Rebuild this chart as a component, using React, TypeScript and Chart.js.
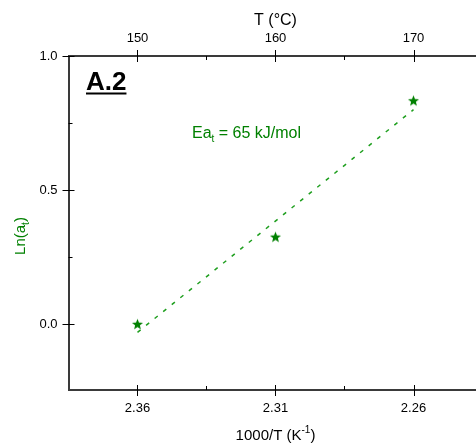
import React, { useEffect, useRef } from 'react';
import { Chart, registerables } from 'chart.js';

Chart.register(...registerables);

// ---- data ----
const invT = [2.36, 2.31, 2.26];
const lnAt = [0.0, 0.325, 0.833];
const fitX = [2.36, 2.26];
const fitY = [-0.03, 0.8];
const xTicks = [2.36, 2.31, 2.26];
const xTickLabels = ['2.36', '2.31', '2.26'];
const xMinorTicks = [2.335, 2.285, 2.235];
const topTickLabels = ['150', '160', '170'];
const yTicks = [0.0, 0.5, 1.0];
const yTickLabels = ['0.0', '0.5', '1.0'];
const yMinorTicks = [-0.25, 0.25, 0.75];
const X_MIN = 2.235;
const X_MAX = 2.385;
const Y_MIN = -0.245;
const Y_MAX = 1.0;

const FONT = '"Liberation Sans", Arial, sans-serif';
const STAR_GREEN = '#008000';
const LINE_GREEN = '#1f9f1f';

function makeStar(): HTMLCanvasElement {
  const c = document.createElement('canvas');
  c.width = 13;
  c.height = 13;
  const g = c.getContext('2d')!;
  const cx = 6.5, cy = 6.8, ro = 5.8, ri = 2.5;
  g.beginPath();
  for (let i = 0; i < 10; i++) {
    const r = i % 2 === 0 ? ro : ri;
    const a = -Math.PI / 2 + (i * Math.PI) / 5;
    const px = cx + r * Math.cos(a);
    const py = cy + r * Math.sin(a);
    if (i === 0) g.moveTo(px, py);
    else g.lineTo(px, py);
  }
  g.closePath();
  g.fillStyle = STAR_GREEN;
  g.fill();
  return c;
}

const tickPlugin = {
  id: 'axisTicks',
  afterDraw(chart: any) {
    const { ctx } = chart;
    const { left, right, top, bottom } = chart.chartArea;
    const xs = chart.scales.x;
    const ys = chart.scales.y;
    ctx.save();
    ctx.strokeStyle = '#000';
    ctx.lineWidth = 1;
    const seg = (x1: number, y1: number, x2: number, y2: number) => {
      ctx.beginPath();
      ctx.moveTo(x1, y1);
      ctx.lineTo(x2, y2);
      ctx.stroke();
    };
    xTicks.forEach((v) => {
      const p = Math.round(xs.getPixelForValue(v)) + 0.5;
      seg(p, bottom - 5, p, bottom + 6);
      seg(p, top - 6, p, top + 6);
    });
    xMinorTicks.forEach((v) => {
      const p = Math.round(xs.getPixelForValue(v)) + 0.5;
      seg(p, bottom - 4, p, bottom);
      seg(p, top, p, top + 4);
    });
    yTicks.forEach((v) => {
      const p = Math.round(ys.getPixelForValue(v)) + 0.5;
      seg(left - 6, p, left + 6, p);
      seg(right - 6, p, right + 6, p);
    });
    yMinorTicks.forEach((v) => {
      if (v < Y_MIN) return;
      const p = Math.round(ys.getPixelForValue(v)) + 0.5;
      seg(left, p, left + 4, p);
      seg(right - 4, p, right, p);
    });
    ctx.restore();
  },
};

const textPlugin = {
  id: 'texts',
  afterDraw(chart: any) {
    const { ctx } = chart;
    const { left, right } = chart.chartArea;
    const cx = (left + right) / 2;
    ctx.save();
    ctx.textBaseline = 'alphabetic';

    // top title
    ctx.fillStyle = '#000';
    ctx.font = `16px ${FONT}`;
    ctx.textAlign = 'center';
    ctx.fillText('T (°C)', cx, 25);

    // bottom title with superscript
    const main1 = '1000/T (K';
    const sup = '-1';
    const end = ')';
    ctx.textAlign = 'left';
    ctx.font = `15px ${FONT}`;
    const w1 = ctx.measureText(main1).width;
    const w3 = ctx.measureText(end).width;
    ctx.font = `10px ${FONT}`;
    const w2 = ctx.measureText(sup).width;
    const total = w1 + w2 + w3;
    let x = cx - total / 2;
    const by = 440;
    ctx.font = `15px ${FONT}`;
    ctx.fillText(main1, x, by);
    x += w1;
    ctx.font = `10px ${FONT}`;
    ctx.fillText(sup, x, by - 7);
    x += w2;
    ctx.font = `15px ${FONT}`;
    ctx.fillText(end, x, by);

    // left title rotated, green with subscript
    ctx.save();
    ctx.translate(25, 236);
    ctx.rotate(-Math.PI / 2);
    ctx.fillStyle = STAR_GREEN;
    ctx.font = `15px ${FONT}`;
    const a1 = 'Ln(a';
    const a2 = 't';
    const a3 = ')';
    const l1 = ctx.measureText(a1).width;
    const l3 = ctx.measureText(a3).width;
    ctx.font = `10px ${FONT}`;
    const l2 = ctx.measureText(a2).width;
    const lt = l1 + l2 + l3;
    let lx = -lt / 2;
    ctx.font = `15px ${FONT}`;
    ctx.fillText(a1, lx, 0);
    lx += l1;
    ctx.font = `10px ${FONT}`;
    ctx.fillText(a2, lx, 4);
    lx += l2;
    ctx.font = `15px ${FONT}`;
    ctx.fillText(a3, lx, 0);
    ctx.restore();

    // panel label
    ctx.fillStyle = '#000';
    ctx.font = `bold 26px ${FONT}`;
    const pl = 'A.2';
    const pw = ctx.measureText(pl).width;
    ctx.fillText(pl, 86, 90);
    ctx.fillRect(86, 92.5, pw, 2);

    // activation energy annotation
    ctx.fillStyle = STAR_GREEN;
    const e1 = 'Ea';
    const e2 = 't';
    const e3 = ' = 65 kJ/mol';
    let ex = 192;
    const ey = 138;
    ctx.font = `16px ${FONT}`;
    ctx.fillText(e1, ex, ey);
    ex += ctx.measureText(e1).width;
    ctx.font = `10px ${FONT}`;
    ctx.fillText(e2, ex, ey + 4);
    ex += ctx.measureText(e2).width;
    ctx.font = `16px ${FONT}`;
    ctx.fillText(e3, ex, ey);

    ctx.restore();
  },
};

export default function App() {
  const ref = useRef<HTMLCanvasElement | null>(null);

  useEffect(() => {
    if (!ref.current) return;
    const star = makeStar();
    const AXIS = '#3a3a3a';
    const chart = new Chart(ref.current, {
      type: 'scatter',
      data: {
        datasets: [
          {
            type: 'line',
            label: 'fit',
            data: fitX.map((x, i) => ({ x, y: fitY[i] })),
            borderColor: LINE_GREEN,
            borderWidth: 1.5,
            borderDash: [4, 7],
            pointRadius: 0,
            showLine: true,
            fill: false,
            xAxisID: 'x',
            yAxisID: 'y',
          } as any,
          {
            type: 'scatter',
            label: 'data',
            data: invT.map((x, i) => ({ x, y: lnAt[i] })),
            pointStyle: star as any,
            pointRadius: 6,
            backgroundColor: STAR_GREEN,
            borderColor: STAR_GREEN,
            xAxisID: 'x',
            yAxisID: 'y',
          },
        ],
      },
      options: {
        animation: false,
        responsive: false,
        maintainAspectRatio: false,
        devicePixelRatio: 1,
        layout: { padding: { left: 0, right: 17.5, top: 0, bottom: 0 } },
        plugins: {
          legend: { display: false },
          tooltip: { enabled: false },
          title: { display: false },
        },
        scales: {
          x: {
            type: 'linear',
            position: 'bottom',
            min: X_MIN,
            max: X_MAX,
            reverse: true,
            grid: { display: false, drawTicks: false },
            border: { display: true, color: AXIS, width: 2 },
            afterBuildTicks: (s: any) => {
              s.ticks = xTicks.map((v) => ({ value: v }));
            },
            afterFit: (s: any) => {
              s.height = 53;
            },
            ticks: {
              padding: 11,
              color: '#000',
              font: { family: FONT, size: 13 },
              maxRotation: 0,
              autoSkip: false,
              callback: (v: any) => xTickLabels[xTicks.indexOf(Number(v))] ?? '',
            },
          },
          x2: {
            type: 'linear',
            position: 'top',
            min: X_MIN,
            max: X_MAX,
            reverse: true,
            grid: { display: false, drawTicks: false },
            border: { display: true, color: AXIS, width: 2 },
            afterBuildTicks: (s: any) => {
              s.ticks = xTicks.map((v) => ({ value: v }));
            },
            afterFit: (s: any) => {
              s.height = 56;
            },
            ticks: {
              padding: 10,
              color: '#000',
              font: { family: FONT, size: 13 },
              maxRotation: 0,
              autoSkip: false,
              callback: (v: any) => topTickLabels[xTicks.indexOf(Number(v))] ?? '',
            },
          },
          y: {
            type: 'linear',
            position: 'left',
            min: Y_MIN,
            max: Y_MAX,
            grid: { display: false, drawTicks: false },
            border: { display: true, color: AXIS, width: 2 },
            afterBuildTicks: (s: any) => {
              s.ticks = yTicks.map((v) => ({ value: v }));
            },
            afterFit: (s: any) => {
              s.width = 68.5;
            },
            ticks: {
              padding: 11,
              color: '#000',
              font: { family: FONT, size: 13 },
              autoSkip: false,
              callback: (v: any) => yTickLabels[yTicks.indexOf(Number(v))] ?? '',
            },
          },
        },
      },
      plugins: [tickPlugin, textPlugin],
    });
    return () => chart.destroy();
  }, []);

  return (
    <div
      style={{
        position: 'fixed',
        left: 0,
        top: 0,
        width: 476,
        height: 443,
        overflow: 'hidden',
        background: '#fff',
      }}
    >
      <canvas ref={ref} width={500} height={443} style={{ width: 500, height: 443, display: 'block' }} />
    </div>
  );
}
